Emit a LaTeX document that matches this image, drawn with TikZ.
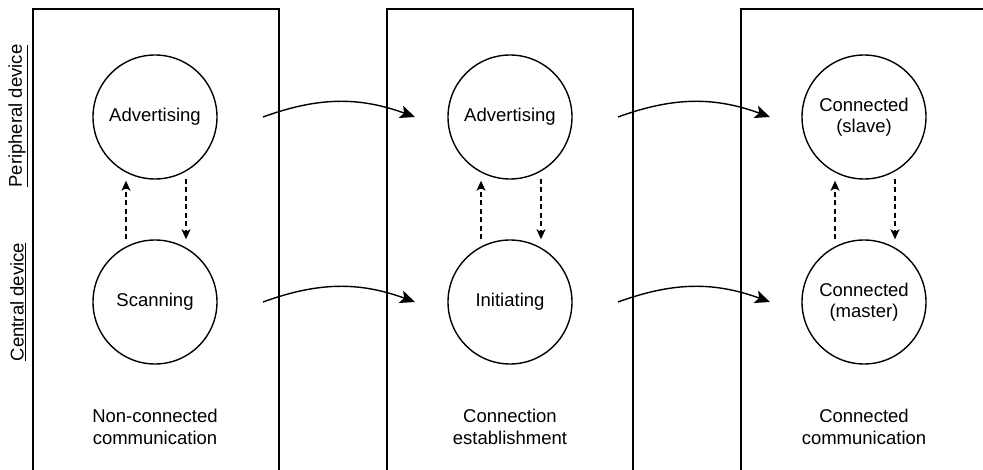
\documentclass[tikz,border=0pt]{standalone}
\usepackage{fontspec}
\setmainfont{Liberation Sans}
\usetikzlibrary{arrows.meta,calc}
\begin{document}
\begin{tikzpicture}[x=1pt,y=-1pt,
  font=\fontsize{18.5}{21.5}\selectfont,
  panel/.style={line width=1.7pt},
  state/.style={circle,draw,line width=1.4pt,minimum size=124pt,inner sep=0pt,align=center},
  flow/.style={line width=1.4pt,-{Stealth[length=15pt,width=13pt,inset=3.5pt]}},
  swap/.style={line width=1.3pt,dash pattern=on 5pt off 3.5pt,-{Stealth[length=10pt,width=9pt,inset=2.5pt]}},
  caption/.style={align=center},
  side/.style={rotate=90}]
\useasboundingbox (0,0) rectangle (983,470);
% panels
\draw[panel] (33,472) -- (33,9) -- (279,9) -- (279,472);
\draw[panel] (387,472) -- (387,9) -- (633,9) -- (633,472);
\draw[panel] (741,472) -- (741,9) -- (985,9);
% side labels
\node[side] (per) at (18,116) {\underline{Peripheral device}};
\node[side] (cen) at (18,302) {\underline{Central device}};
% states
\node[state] (adv1) at (155,117) {Advertising};
\node[state] (scan) at (155,302) {Scanning};
\node[state] (adv2) at (510,117) {Advertising};
\node[state] (init) at (510,302) {Initiating};
\node[state] (slave) at (864,117) {Connected\\(slave)};
\node[state] (master) at (864,302) {Connected\\(master)};
% captions
\node[caption] (c1) at (155,427) {Non-connected\\communication};
\node[caption] (c2) at (510,427) {Connection\\establishment};
\node[caption] (c3) at (864,427) {Connected\\communication};
% flow arrows
\coordinate (a1s) at (263,117); \coordinate (a1e) at (415,117);
\coordinate (b1s) at (263,302); \coordinate (b1e) at (415,302);
\coordinate (a2s) at (618,117); \coordinate (a2e) at (770,117);
\coordinate (b2s) at (618,302); \coordinate (b2e) at (770,302);
\draw[flow] (a1s) to[bend left=20] (a1e);
\draw[flow] (b1s) to[bend left=20] (b1e);
\draw[flow] (a2s) to[bend left=20] (a2e);
\draw[flow] (b2s) to[bend left=20] (b2e);
% dashed swaps
\foreach \u/\l in {adv1/scan,adv2/init,slave/master}{
  \draw[swap] ($(\l.north)+(-29,0)$) -- ($(\u.south)+(-29,1)$);
  \draw[swap] ($(\u.south)+(31,-1)$) -- ($(\l.north)+(31,0)$);
}
\end{tikzpicture}
\end{document}
